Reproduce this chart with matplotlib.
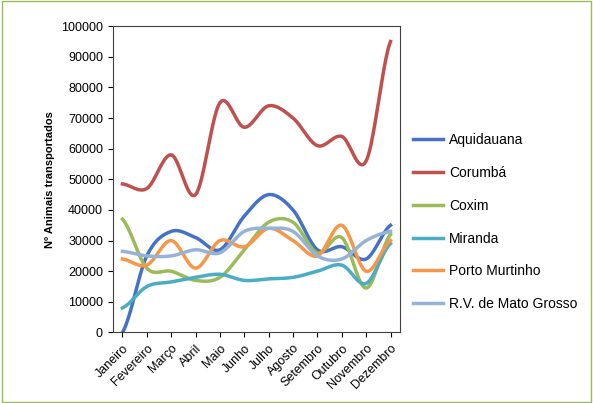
import matplotlib.pyplot as plt
import numpy as np

plt.rcParams["font.family"] = ["Liberation Sans", "DejaVu Sans"]

months = ["Janeiro", "Fevereiro", "Março", "Abril", "Maio", "Junho", "Julho",
          "Agosto", "Setembro", "Outubro", "Novembro", "Dezembro"]
aquidauana = [0, 25000, 33000, 31000, 27000, 38000, 45000, 40000, 27000, 28000, 24000, 35000]
corumba = [48500, 47000, 58000, 45000, 75000, 67000, 74000, 70000, 61000, 64000, 56000, 95000]
coxim = [37000, 21000, 20000, 17000, 18000, 27000, 36000, 36000, 26000, 31000, 14500, 32000]
miranda = [8000, 15000, 16500, 18000, 19000, 17000, 17500, 18000, 20000, 22000, 16000, 29000]
porto_murtinho = [24000, 22000, 30000, 21000, 30000, 28000, 34000, 30000, 25000, 35000, 20000, 30000]
rv_mato_grosso = [26500, 25000, 25000, 27000, 26000, 33000, 34000, 33000, 25000, 24000, 30000, 33000]

series = [
    ("Aquidauana", aquidauana, "#4472c4"),
    ("Corumbá", corumba, "#c0504d"),
    ("Coxim", coxim, "#9bbb59"),
    ("Miranda", miranda, "#4bacc6"),
    ("Porto Murtinho", porto_murtinho, "#f79646"),
    ("R.V. de Mato Grosso", rv_mato_grosso, "#95b3d7"),
]


def smooth(y, n=20):
    # Catmull-Rom curve through the points, like Excel's smoothed lines
    y = np.asarray(y, float)
    p = np.concatenate([[y[0]], y, [y[-1]]])
    xs, ys = [], []
    for i in range(len(y) - 1):
        t = np.linspace(0, 1, n, endpoint=False)
        p0, p1, p2, p3 = p[i], p[i + 1], p[i + 2], p[i + 3]
        ys.append(0.5 * (2 * p1 + (-p0 + p2) * t + (2 * p0 - 5 * p1 + 4 * p2 - p3) * t ** 2
                         + (-p0 + 3 * p1 - 3 * p2 + p3) * t ** 3))
        xs.append(i + t)
    xs.append([len(y) - 1])
    ys.append([y[-1]])
    return np.concatenate(xs), np.concatenate(ys)


fig = plt.figure(figsize=(5.93, 4.03), dpi=100)
fig.patches.append(plt.Rectangle((0.003, 0.003), 0.994, 0.994, transform=fig.transFigure,
                                 fill=False, edgecolor="#9bbb59", linewidth=1))
ax = fig.add_axes([0.19, 0.175, 0.485, 0.76])
x = np.arange(len(months))
for name, vals, color in series:
    sx, sy = smooth(vals)
    ax.plot(sx, sy, color=color, linewidth=2.5, label=name)

ax.set_xlim(-0.4, len(months) - 0.6)
ax.set_ylim(0, 100000)
ax.set_yticks(np.arange(0, 100001, 10000))
ax.set_xticks(x)
ax.set_xticklabels(months, rotation=45, ha="right", rotation_mode="anchor", fontsize=9)
ax.tick_params(axis="y", labelsize=9)
ax.set_ylabel("Nº Animais transportados", fontsize=8, fontweight="bold")
for s in ax.spines.values():
    s.set_color("#404040")
ax.legend(loc="center left", bbox_to_anchor=(1.0, 0.36), frameon=False, fontsize=10,
          handlelength=2.2, handletextpad=0.4, labelspacing=1.35)
fig.savefig("out.png", dpi=100)
